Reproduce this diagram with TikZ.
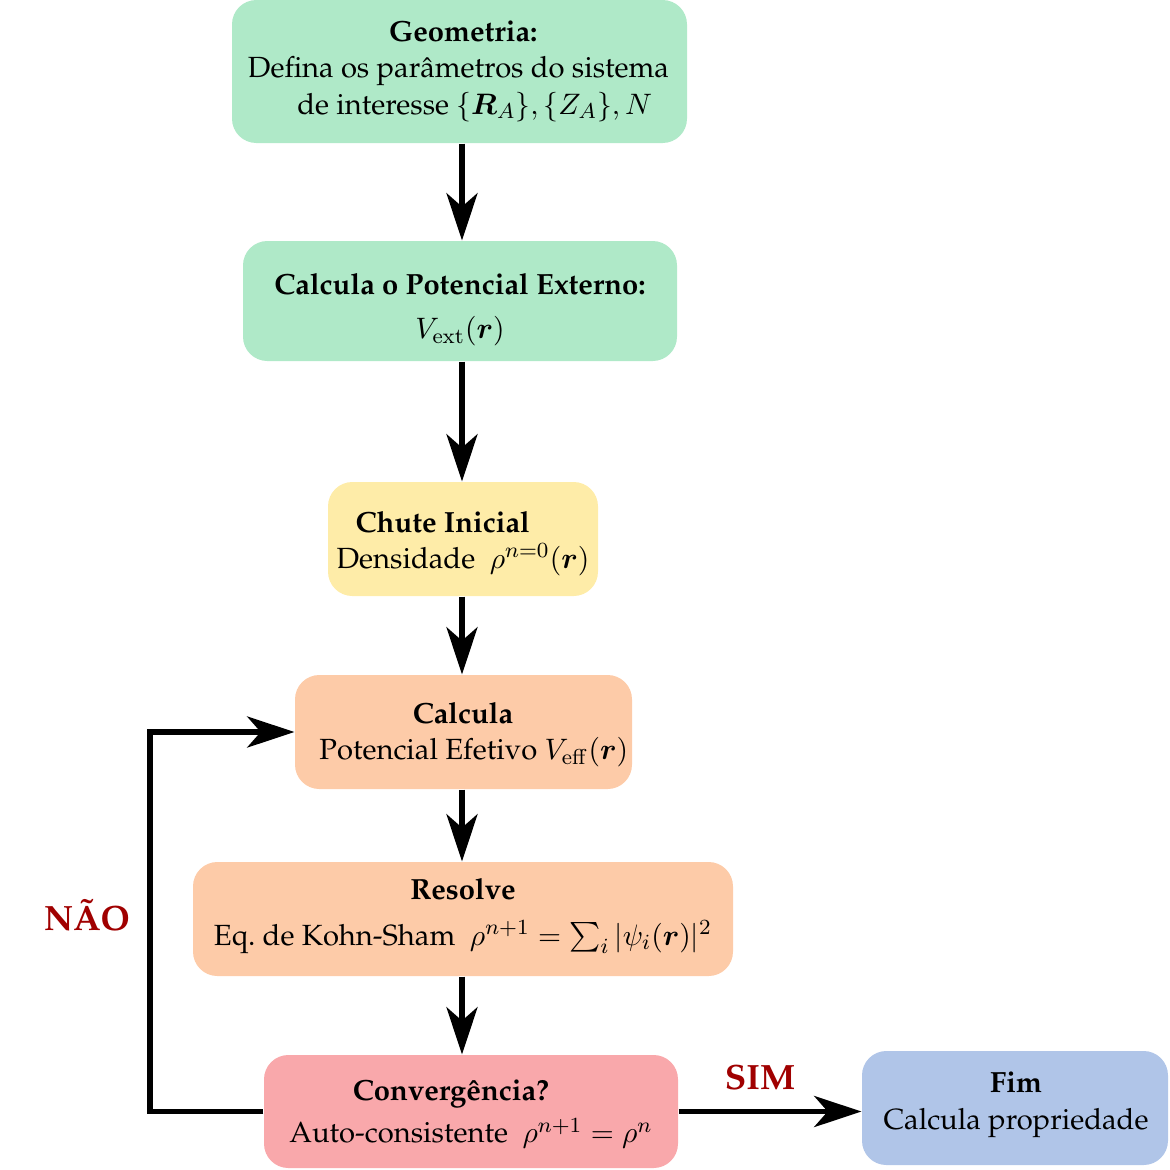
\documentclass[tikz,border=0pt]{standalone}
\usepackage[T1]{fontenc}
\usepackage{palatino}
\usepackage{amsmath}
\usetikzlibrary{arrows.meta}
\definecolor{cgreen}{HTML}{AFE9C8}
\definecolor{cyellow}{HTML}{FEECA8}
\definecolor{cpeach}{HTML}{FDCBA8}
\definecolor{cpink}{HTML}{F9A8AB}
\definecolor{cblue}{HTML}{B0C5E8}
\definecolor{cred}{HTML}{A00000}
\begin{document}
\begin{tikzpicture}[x=0.37pt,y=-0.37pt,
  font=\fontsize{10.8}{13.5}\selectfont,
  box/.style={rounded corners=9pt, inner sep=0pt},
  txt/.style={inner sep=0pt, align=center},
  flow/.style={line width=1.9pt, -{Stealth[length=17.5pt,width=11.5pt,inset=5pt]}},
  lbl/.style={text=cred, font=\fontsize{13}{15}\selectfont\bfseries}]
\useasboundingbox (0,0) rectangle (1170,1170);
% boxes
\node[box, fill=cgreen, minimum width=455*0.37pt, minimum height=143*0.37pt] (geo) at (459.5,71.5) {};
\node[box, fill=cgreen, minimum width=434*0.37pt, minimum height=120*0.37pt] (ext) at (460,301) {};
\node[box, fill=cyellow, minimum width=270*0.37pt, minimum height=114*0.37pt] (chu) at (463,539) {};
\node[box, fill=cpeach, minimum width=337*0.37pt, minimum height=114*0.37pt] (cal) at (463.5,732) {};
\node[box, fill=cpeach, minimum width=540*0.37pt, minimum height=114*0.37pt] (res) at (463,919) {};
\node[box, fill=cpink, minimum width=414*0.37pt, minimum height=113*0.37pt] (con) at (471,1111.5) {};
\node[box, fill=cblue, minimum width=306*0.37pt, minimum height=114*0.37pt] (fim) at (1015,1108) {};
% texts
\node[txt] (geot) at (458.5,71)
  {\hspace*{3.5pt}\textbf{Geometria:}\\ Defina os par\^ametros do sistema\\ \hspace*{12pt}de interesse $\{\boldsymbol{R}_A\},\{Z_A\},N$};
\node[txt] (extt) at (460,309.5)
  {\textbf{Calcula o Potencial Externo:}\\[3pt] $V_{\mathrm{ext}}(\boldsymbol{r})$};
\node[txt] (chut) at (463,543.5)
  {\textbf{Chute Inicial}\hspace*{15pt}\\ Densidade \ $\rho^{n=0}(\boldsymbol{r})$};
\node[txt] (calt) at (463,734.5)
  {\textbf{Calcula}\\ \hspace*{8pt}Potencial Efetivo $V_{\mathrm{eff}}(\boldsymbol{r})$};
\node[txt] (rest) at (463,916)
  {\textbf{Resolve}\\[3.5pt] Eq.\ de Kohn-Sham \ $\rho^{n+1}=\sum_i|\psi_i(\boldsymbol{r})|^2$};
\node[txt] (cont) at (471,1114.5)
  {\textbf{Converg\^encia?}\hspace*{14.8pt}\\[2pt] Auto-consistente \ $\rho^{n+1}=\rho^n$};
\node[txt] (fimt) at (1016,1105)
  {\textbf{Fim}\\ Calcula propriedade};
\node[lbl] (nao) at (87,915) {N\~AO};
\node[lbl] (sim) at (760,1077) {SIM};
% connectors
\coordinate (ax) at (462,0);
\coordinate (lp) at (150,0);
\draw[flow] (geo.south -| ax) -- (ext.north -| ax);
\draw[flow] (ext.south -| ax) -- (chu.north -| ax);
\draw[flow] (chu.south -| ax) -- (cal.north -| ax);
\draw[flow] (cal.south -| ax) -- (res.north -| ax);
\draw[flow] (res.south -| ax) -- (con.north -| ax);
\draw[flow] (con.east) -- (con.east -| fim.west);
\draw[flow] (con.west) -- (con.west -| lp) |- (cal.west);
\end{tikzpicture}
\end{document}
